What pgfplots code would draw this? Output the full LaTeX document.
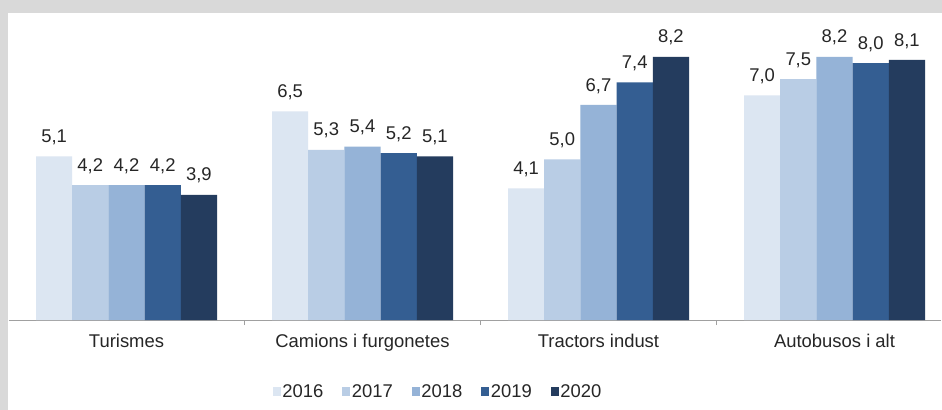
\documentclass[border=0pt]{standalone}
\usepackage{pgfplots}
\usepackage{pgfplotstable}
\pgfplotsset{compat=1.18}
\usepackage{fontspec}
\setmainfont{Liberation Sans}
\definecolor{c2016}{HTML}{DCE6F2}
\definecolor{c2017}{HTML}{B9CDE5}
\definecolor{c2018}{HTML}{95B3D7}
\definecolor{c2019}{HTML}{345E92}
\definecolor{c2020}{HTML}{243C5E}
\definecolor{txt}{HTML}{262626}
\definecolor{bordergray}{HTML}{D9D9D9}
\definecolor{axgray}{HTML}{A0A0A0}
\pgfplotstableread{
x y2016 y2017 y2018 y2019 y2020
0 5.1 4.2 4.2 4.2 3.9
1 6.5 5.3 5.4 5.2 5.1
2 4.1 5.0 6.7 7.4 8.2
3 7.0 7.5 8.2 8.0 8.1
}\datatable
\begin{document}
\begin{tikzpicture}[font=\fontsize{18.5}{22}\selectfont]
\useasboundingbox (0,0) rectangle (942bp,410bp);
\fill[bordergray] (0,0) rectangle (942bp,410bp);
\fill[white] (8bp,0) rectangle (942bp,397bp);
\begin{axis}[
  at={(126.5bp,90bp)}, anchor=origin,
  x=236bp, y=32.1bp,
  xmin=-0.5, xmax=3.45, ymin=0, ymax=9.56,
  ybar=0pt, bar width=36.2bp,
  axis x line*=bottom, axis y line=none,
  x axis line style={axgray, line width=0.8bp, -},
  xtick={0,1,2,3},
  xticklabels={Turismes, Camions i furgonetes, Tractors indust, Autobusos i alt},
  major tick length=0pt,
  minor xtick={0.5,1.5,2.5},
  minor tick length=5bp,
  tick align=outside,
  minor tick style={axgray, line width=0.8bp},
  xticklabel style={text=txt, yshift=-11bp},
  clip=false,
  nodes near coords={\pgfmathprintnumber[fixed,fixed zerofill,precision=1,use comma,assume math mode=true]{\pgfplotspointmeta}},
  every node near coord/.append style={text=txt, anchor=south, yshift=8bp},
  legend columns=5,
  legend style={at={(0.4607,-0.233)}, anchor=center, draw=none, fill=none,
    /tikz/every even column/.append style={column sep=17.5bp},
    nodes={text=txt, inner sep=1.5bp}},
  legend image code/.code={\fill[#1,draw=none] (0bp,-4.5bp) rectangle (8bp,4.5bp);},
]
\addplot[fill=c2016, draw=none] table[x=x,y=y2016]{\datatable};
\addplot[fill=c2017, draw=none] table[x=x,y=y2017]{\datatable};
\addplot[fill=c2018, draw=none] table[x=x,y=y2018]{\datatable};
\addplot[fill=c2019, draw=none] table[x=x,y=y2019]{\datatable};
\addplot[fill=c2020, draw=none] table[x=x,y=y2020]{\datatable};
\legend{2016,2017,2018,2019,2020}
\end{axis}
\end{tikzpicture}
\end{document}
